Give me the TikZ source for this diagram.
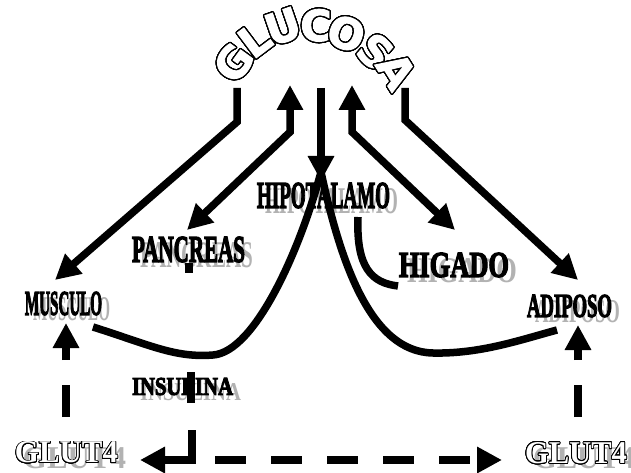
\documentclass[tikz,border=0pt]{standalone}
\usepackage{fontspec}
\setmainfont{Liberation Serif}
\newfontfamily\glufont{DejaVu Sans}[UprightFont={* Bold},FakeBold=2]
\newfontfamily\heavy{Liberation Serif}[UprightFont={* Bold},FakeBold=4]
\usepackage{graphicx}
\usepackage{contour}
\contourlength{1.3pt}
\usetikzlibrary{arrows.meta}
\newcommand\lbl[3]{\resizebox{#1pt}{#2pt}{\heavy\fontsize{36}{36}\selectfont #3}}
\newcommand\lbls[3]{\resizebox{#1pt}{#2pt}{\fontsize{36}{36}\selectfont\bfseries #3}}
\begin{document}
\begin{tikzpicture}[x=1pt,y=-1pt,
  lab/.style={inner sep=0pt,anchor=center},
  shad/.style={inner sep=0pt,anchor=center,text=black!30},
  glu/.style={inner sep=0pt,anchor=center,font=\glufont\fontsize{43}{43}\selectfont},
  ln/.style={line width=7.5pt},
  tipE/.style={-{Triangle[length=25pt,width=25pt]}},
  tipB/.style={{Triangle[length=25pt,width=25pt]}-{Triangle[length=25pt,width=25pt]}},
  dsh/.style={dash pattern=on 32pt off 25pt}]
\useasboundingbox (0,0) rectangle (631,473);
\fill[white] (0,0) rectangle (631,473);
% GLUCOSA
\foreach \n/\x/\y/\r/\c in {g1/234/63/54/G, g2/255/40/37/L, g3/283/27/19/U, g4/316/26/0/C, g5/346/34/-20/O, g6/375/52/-41/S, g7/396/71/-58/A}
  \node[glu,rotate=\r] (\n) at (\x,\y) {\contour[32]{black}{\textcolor{white}{\c}}};
% shadows
\node[shad] (hipos) at (331.5,201.5) {\lbls{133}{25}{HIPOTALAMO}};
\node[shad] (pancs) at (196.5,255.5) {\lbls{113}{25}{PANCREAS}};
\node[shad] (higas) at (462,271) {\lbls{110}{24}{HIGADO}};
\node[shad] (muscs) at (71.5,309.5) {\lbls{77}{23}{MUSCULO}};
\node[shad] (adips) at (577.5,312) {\lbls{85}{22}{ADIPOSO}};
\node[shad] (insus) at (190.5,392.5) {\lbls{101}{17}{INSULINA}};
\node[shad] (glutLs) at (74.5,458) {\resizebox{103pt}{21pt}{\fontsize{31}{31}\selectfont\bfseries GLUT4}};
\node[shad] (glutRs) at (584,458) {\resizebox{102pt}{21pt}{\fontsize{31}{31}\selectfont\bfseries GLUT4}};
% labels
\node[lab] (hipo) at (323.5,195.5) {\lbl{133}{25}{HIPOTALAMO}};
\node[lab] (panc) at (188.5,249.5) {\lbl{113}{25}{PANCREAS}};
\node[lab] (higa) at (454,265) {\lbl{110}{24}{HIGADO}};
\node[lab] (musc) at (63.5,303.5) {\lbl{77}{23}{MUSCULO}};
\node[lab] (adip) at (569.5,306) {\lbl{85}{22}{ADIPOSO}};
\node[lab] (insu) at (182.5,386.5) {\lbl{101}{17}{INSULINA}};
\contourlength{0.8pt}
\node[lab] (glutL) at (66.5,453) {\resizebox{103pt}{21pt}{\fontsize{31}{31}\selectfont\bfseries\contour[24]{black}{\textcolor{white}{GLUT4}}}};
\node[lab] (glutR) at (576,453.5) {\resizebox{102pt}{21pt}{\fontsize{31}{31}\selectfont\bfseries\contour[24]{black}{\textcolor{white}{GLUT4}}}};
% coordinates
\coordinate (aL0) at (237,88);  \coordinate (aL1) at (237,122); \coordinate (aLt) at (55,280);
\coordinate (aP0) at (290,85);  \coordinate (aP1) at (290,132); \coordinate (aPt) at (187,230);
\coordinate (aC0) at (321,88);  \coordinate (aCt) at (321,181);
\coordinate (aH0) at (352,85);  \coordinate (aH1) at (352,132); \coordinate (aHt) at (455,230);
\coordinate (aR0) at (405,88);  \coordinate (aR1) at (405,120); \coordinate (aRt) at (578,280);
\coordinate (apex) at (321,172);
\coordinate (cL0) at (93,327); \coordinate (cLm) at (213,355);
\coordinate (cRm) at (433,353); \coordinate (cR0) at (557,330);
\coordinate (hk0) at (358,217); \coordinate (hk1) at (398,286);
% solid arrows from glucosa
\draw[ln,tipE] (aL0) -- (aL1) -- (aLt);
\draw[ln,tipB] (aPt) -- (aP1) -- (aP0);
\draw[ln,tipE] (aC0) -- (aCt);
\draw[ln,tipB] (aH0) -- (aH1) -- (aHt);
\draw[ln,tipE] (aR0) -- (aR1) -- (aRt);
% curves
\draw[ln] (cL0) .. controls (150,345) and (175,358) .. (cLm) .. controls (255,352) and (300,250) .. (apex);
\draw[ln] (apex) .. controls (340,260) and (370,352) .. (cRm) .. controls (480,354) and (520,340) .. (cR0);
\draw[ln] (hk0) .. controls (356,268) and (372,283) .. (hk1);
% insulina / glut4 dashed
\coordinate (pk0) at (189,263); \coordinate (pk1) at (189,273);
\coordinate (ib0) at (191,372); \coordinate (ib1) at (191,403);
\coordinate (lv0) at (192,430); \coordinate (lc) at (192,460); \coordinate (lt) at (140,460);
\coordinate (rh0) at (215,460); \coordinate (rt) at (502,460);
\draw[ln] (pk0) -- (pk1);
\draw[ln] (ib0) -- (ib1);
\draw[ln,tipE] (lv0) -- (lc) -- (lt);
\draw[ln,tipE,dash pattern=on 31pt off 25pt] (rh0) -- (rt);
\coordinate (mu0) at (66,417); \coordinate (mut) at (66,323);
\coordinate (ad0) at (578,417); \coordinate (adt) at (578,325);
\draw[ln,tipE,dsh] (mu0) -- (mut);
\draw[ln,tipE,dsh] (ad0) -- (adt);
\end{tikzpicture}
\end{document}
